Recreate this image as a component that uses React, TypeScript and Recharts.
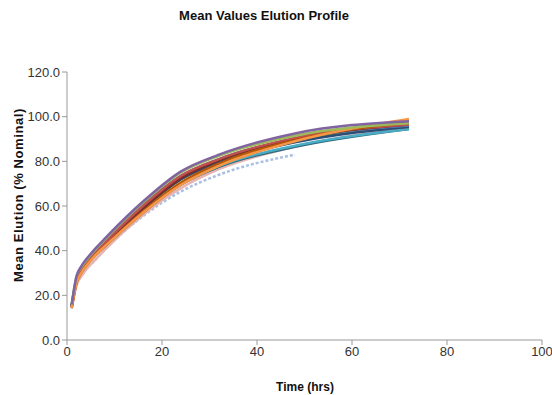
import { LineChart, Line, XAxis, YAxis } from "recharts";

const times = [1, 2, 3, 4, 6, 8, 16, 24, 32, 48, 72];

const lightBlue = [14.5, 25, 28.5, 31.5, 36, 40.5, 55.5, 66.5, 74, 83, null];
const pink = [14, 24.5, 28.5, 31.5, 36, 40.5, 56, 68, 76.5, 86.5, 95];
const darkPurple = [15.5, 27, 31, 34, 39, 43.5, 59.5, 72.5, 80.5, 90, 97];
const darkAqua = [15, 26.5, 30.5, 33.5, 38, 42, 57, 69.5, 77.5, 86.5, 94.5];
const aqua = [15.5, 27, 31, 34, 38.5, 42.5, 57.5, 70, 78, 87, 94.5];
const olive = [15, 26.5, 30.5, 33.5, 38.5, 43, 58.5, 72, 80, 89, 95.5];
const darkBlue = [15, 26.5, 31, 34, 39, 43.5, 59, 72, 79.5, 88.5, 95.5];
const blue = [15.5, 27, 31.5, 34.5, 39.5, 44, 60.5, 73.5, 81, 90, 96];
const darkRed = [15, 26, 30.5, 33.5, 38.5, 43, 59, 72.5, 80.5, 90, 96.5];
const red = [15, 26.5, 31, 34, 39, 43.5, 60, 73.5, 81, 90.5, 96.5];
const darkOrange = [14.5, 25.5, 30, 33, 38, 42, 57.5, 70.5, 79, 89.5, 97.5];
const orange = [14.5, 25.5, 30, 33, 38, 42, 57, 69.5, 78, 89, 99];
const green = [16, 28.5, 32.5, 35.5, 40.5, 45, 61.5, 75, 82.5, 91.5, 97];
const purple = [16, 28.5, 33, 36, 41, 45.5, 62, 75.5, 83, 92.5, 98];

const xTicks = [0, 20, 40, 60, 80, 100];
const yTicks = [0, 20, 40, 60, 80, 100, 120];

const series = [
  { key: "s1", values: lightBlue, color: "#a9c0e2", dash: "3 2" },
  { key: "s2", values: pink, color: "#e8b4b3" },
  { key: "s3", values: darkPurple, color: "#5c4a75" },
  { key: "s4", values: darkAqua, color: "#276a7c" },
  { key: "s5", values: aqua, color: "#4bacc6" },
  { key: "s6", values: olive, color: "#7f7a2a" },
  { key: "s7", values: darkBlue, color: "#2c4d75" },
  { key: "s8", values: blue, color: "#4f81bd" },
  { key: "s9", values: darkRed, color: "#772c2a" },
  { key: "s10", values: red, color: "#c0504d" },
  { key: "s11", values: darkOrange, color: "#b65708" },
  { key: "s12", values: orange, color: "#f79646" },
  { key: "s13", values: green, color: "#9bbb59" },
  { key: "s14", values: purple, color: "#8064a2" },
];

const data = times.map((t, i) => {
  const row: Record<string, number | null> = { t };
  series.forEach((s) => {
    row[s.key] = s.values[i];
  });
  return row;
});

const font = "'Liberation Sans', Arial, sans-serif";
const tickStyle = { fontSize: 13, fill: "#333", fontFamily: font };

export default function App() {
  return (
    <div style={{ position: "absolute", left: 0, top: 0, width: 552, height: 395, background: "#fff", fontFamily: font }}>
      <div style={{ position: "absolute", left: 0, top: 8, width: 528, textAlign: "center", fontSize: 13, fontWeight: "bold", color: "#111" }}>
        Mean Values Elution Profile
      </div>
      <div
        style={{
          position: "absolute",
          left: 18,
          top: 195,
          transform: "translate(-50%, -50%) rotate(-90deg)",
          whiteSpace: "nowrap",
          fontSize: 13,
          letterSpacing: 0.6,
          fontWeight: "bold",
          color: "#111",
        }}
      >
        Mean Elution (% Nominal)
      </div>
      <div style={{ position: "absolute", left: 254, top: 380, width: 102, textAlign: "center", fontSize: 12, fontWeight: "bold", color: "#111" }}>
        Time (hrs)
      </div>
      <LineChart width={552} height={395} data={data} margin={{ top: 72, right: 10, left: 0, bottom: 25 }}>
        <XAxis
          dataKey="t"
          type="number"
          domain={[0, 100]}
          ticks={xTicks}
          tickSize={5}
          stroke="#999"
          tick={tickStyle}
          height={30}
          tickLine={{ stroke: "#999" }}
        />
        <YAxis
          type="number"
          domain={[0, 120]}
          ticks={yTicks}
          tickSize={5}
          width={67}
          stroke="#999"
          tick={tickStyle}
          tickLine={{ stroke: "#999" }}
          tickFormatter={(v: number) => v.toFixed(1)}
        />
        {series.map((s) => (
          <Line
            key={s.key}
            dataKey={s.key}
            type="monotone"
            stroke={s.color}
            strokeWidth={2.5}
            strokeDasharray={s.dash}
            dot={false}
            isAnimationActive={false}
          />
        ))}
      </LineChart>
    </div>
  );
}
